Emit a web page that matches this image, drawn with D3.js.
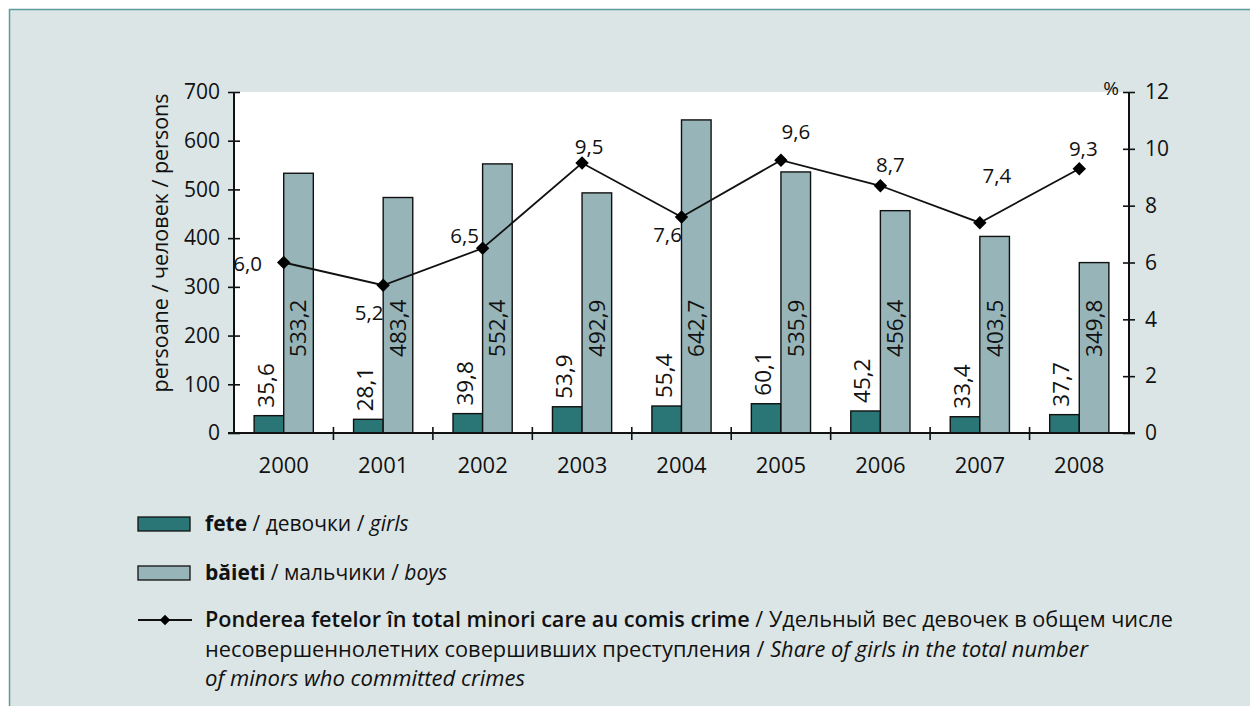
<!DOCTYPE html>
<html>
<head>
<meta charset="utf-8">
<script src="https://cdn.jsdelivr.net/npm/d3@7"></script>
<style>
  html, body { margin: 0; padding: 0; background: #fff; }
  svg { display: block; font-family: "Open Sans", "Noto Sans", sans-serif; }
</style>
</head>
<body>
<svg id="chart" width="1250" height="706"></svg>
<script>
// data
const years = ["2000", "2001", "2002", "2003", "2004", "2005", "2006", "2007", "2008"];
const girls = [35.6, 28.1, 39.8, 53.9, 55.4, 60.1, 45.2, 33.4, 37.7];
const boys = [533.2, 483.4, 552.4, 492.9, 642.7, 535.9, 456.4, 403.5, 349.8];
const share = [6.0, 5.2, 6.5, 9.5, 7.6, 9.6, 8.7, 7.4, 9.3];
const leftTicks = [0, 100, 200, 300, 400, 500, 600, 700];
const rightTicks = [0, 2, 4, 6, 8, 10, 12];

// where the share labels sit, relative to each point
const shareLabelOffset = [[-36, 1], [-14, 28], [-18, -12], [7, -16], [-14, 18], [15, -28], [10, -21], [17, -47], [4, -20]];

const fmt = v => d3.format(".1f")(v).replace(".", ",");

const colGirls = "#2a7575";
const colBoys = "#97b5b9";

const svg = d3.select("#chart");

// panel background
svg.append("rect")
  .attr("x", 9.5).attr("y", 9.5)
  .attr("width", 1260).attr("height", 720)
  .attr("fill", "#dbe5e5")
  .attr("stroke", "#5e9c9c")
  .attr("stroke-width", 1.5);

const plot = { left: 234, right: 1129, top: 92, bottom: 433 };

svg.append("rect")
  .attr("x", plot.left).attr("y", plot.top)
  .attr("width", plot.right - plot.left)
  .attr("height", plot.bottom - plot.top)
  .attr("fill", "#fff");

const x = d3.scaleBand().domain(years).range([plot.left, plot.right]).padding(0);
const xSub = d3.scaleBand().domain(["girls", "boys"]).range([0, x.bandwidth()])
  .paddingInner(0).paddingOuter(0.68);
const y = d3.scaleLinear().domain([0, 700]).range([plot.bottom, plot.top]);
const y2 = d3.scaleLinear().domain([0, 12]).range([plot.bottom, plot.top]);

// bars
const groups = svg.append("g").selectAll("g")
  .data(years)
  .join("g")
  .attr("transform", d => `translate(${x(d)},0)`);

groups.append("rect")
  .attr("x", xSub("girls"))
  .attr("y", (d, i) => y(girls[i]))
  .attr("width", xSub.bandwidth())
  .attr("height", (d, i) => y(0) - y(girls[i]))
  .attr("fill", colGirls)
  .attr("stroke", "#111")
  .attr("stroke-width", 1.4);

groups.append("rect")
  .attr("x", xSub("boys"))
  .attr("y", (d, i) => y(boys[i]))
  .attr("width", xSub.bandwidth())
  .attr("height", (d, i) => y(0) - y(boys[i]))
  .attr("fill", colBoys)
  .attr("stroke", "#111")
  .attr("stroke-width", 1.4);

// bar value labels (rotated)
groups.append("text")
  .attr("transform", (d, i) => `translate(${xSub("girls") + xSub.bandwidth() / 2 - 3},${y(girls[i]) - 8}) rotate(-90)`)
  .attr("dy", "0.35em")
  .attr("font-size", 22.5)
  .attr("fill", "#111")
  .text((d, i) => fmt(girls[i]));

groups.append("text")
  .attr("transform", (d, i) => `translate(${xSub("boys") + xSub.bandwidth() / 2},${y(215)}) rotate(-90)`)
  .attr("dy", "0.35em")
  .attr("text-anchor", "middle")
  .attr("font-size", 22.5)
  .attr("fill", "#111")
  .text((d, i) => fmt(boys[i]));

// axes
const axisLeft = svg.append("g")
  .attr("transform", `translate(${plot.left},0)`)
  .call(d3.axisLeft(y).tickValues(leftTicks).tickSize(6).tickPadding(8));
axisLeft.selectAll(".tick line").attr("x1", 6).attr("x2", -6);

const axisRight = svg.append("g")
  .attr("transform", `translate(${plot.right},0)`)
  .call(d3.axisRight(y2).tickValues(rightTicks).tickSize(6).tickPadding(10));
axisRight.selectAll(".tick line").attr("x1", -6).attr("x2", 6);

// x axis: ticks at category boundaries
const axisBottom = svg.append("g")
  .attr("transform", `translate(0,${plot.bottom})`)
  .call(d3.axisBottom(x).tickSize(0).tickPadding(32));
axisBottom.selectAll(".tick text").attr("dy", "0.35em");
axisBottom.selectAll(".sep")
  .data(years.slice(1))
  .join("line")
  .attr("class", "sep")
  .attr("x1", d => x(d)).attr("x2", d => x(d))
  .attr("y1", -6).attr("y2", 7)
  .attr("stroke", "#111").attr("stroke-width", 1.6);

[axisLeft, axisRight, axisBottom].forEach(a => {
  a.select(".domain").remove();
  a.selectAll(".tick line").attr("stroke", "#111").attr("stroke-width", 1.6);
  a.selectAll(".tick text").attr("font-size", 21).attr("fill", "#111")
    .attr("font-family", "'Open Sans', sans-serif");
});
axisBottom.selectAll(".tick text").attr("font-size", 22);

svg.append("line")
  .attr("x1", plot.left).attr("x2", plot.left)
  .attr("y1", plot.top).attr("y2", plot.bottom + 1)
  .attr("stroke", "#111").attr("stroke-width", 2);
svg.append("line")
  .attr("x1", plot.right).attr("x2", plot.right)
  .attr("y1", plot.top).attr("y2", plot.bottom + 1)
  .attr("stroke", "#111").attr("stroke-width", 2);
svg.append("line")
  .attr("x1", plot.left - 6).attr("x2", plot.right + 6)
  .attr("y1", plot.bottom).attr("y2", plot.bottom)
  .attr("stroke", "#111").attr("stroke-width", 2);

// axis titles
svg.append("text")
  .attr("transform", `translate(160,243) rotate(-90)`)
  .attr("dy", "0.35em")
  .attr("text-anchor", "middle")
  .attr("font-size", 21.5)
  .attr("fill", "#111")
  .text("persoane / человек / persons");

svg.append("text")
  .attr("x", 1111).attr("y", 88)
  .attr("dy", "0.35em")
  .attr("text-anchor", "middle")
  .attr("font-size", 19)
  .attr("fill", "#111")
  .text("%");

// share line
const cx = d => x(d) + x.bandwidth() / 2;
const line = d3.line()
  .x((d, i) => cx(years[i]))
  .y(d => y2(d));

svg.append("path")
  .datum(share)
  .attr("d", line)
  .attr("fill", "none")
  .attr("stroke", "#111")
  .attr("stroke-width", 1.8);

const diamond = d3.symbol().type(d3.symbolSquare).size(90);
svg.append("g").selectAll("path")
  .data(share)
  .join("path")
  .attr("d", diamond)
  .attr("transform", (d, i) => `translate(${cx(years[i])},${y2(d)}) rotate(45)`)
  .attr("fill", "#000");

svg.append("g").selectAll("text")
  .data(share)
  .join("text")
  .attr("x", (d, i) => cx(years[i]) + shareLabelOffset[i][0])
  .attr("y", (d, i) => y2(d) + shareLabelOffset[i][1])
  .attr("dy", "0.35em")
  .attr("text-anchor", "middle")
  .attr("font-size", 20.5)
  .attr("fill", "#111")
  .text(d => fmt(d));

// legend
const legend = svg.append("g");
const swatches = [
  { color: colGirls, bold: "fete", mid: " / девочки / ", it: "girls", y: 524 },
  { color: colBoys, bold: "băieti", mid: " / мальчики / ", it: "boys", y: 573 }
];
swatches.forEach(s => {
  legend.append("rect")
    .attr("x", 138).attr("y", s.y - 7)
    .attr("width", 52).attr("height", 14)
    .attr("fill", s.color)
    .attr("stroke", "#111").attr("stroke-width", 1.3);
  const t = legend.append("text")
    .attr("x", 205).attr("y", s.y)
    .attr("dy", "0.35em")
    .attr("font-size", 21)
    .attr("fill", "#111");
  t.append("tspan").attr("font-weight", "bold").text(s.bold);
  t.append("tspan").text(s.mid);
  t.append("tspan").attr("font-style", "italic").text(s.it);
});

legend.append("line")
  .attr("x1", 138).attr("x2", 192)
  .attr("y1", 620).attr("y2", 620)
  .attr("stroke", "#111").attr("stroke-width", 1.8);
legend.append("path")
  .attr("d", d3.symbol().type(d3.symbolSquare).size(55))
  .attr("transform", "translate(165,620) rotate(45)")
  .attr("fill", "#000");

const legLines = [
  { y: 620, len: 968, parts: [["Ponderea fetelor în total minori care au comis crime", "bold"], [" / Удельный вес девочек в общем числе", "normal"]] },
  { y: 650, len: 883, parts: [["несовершеннолетних совершивших преступления / ", "normal"], ["Share of girls in the total number", "italic"]] },
  { y: 679, len: 320, parts: [["of minors who committed crimes", "italic"]] }
];
legLines.forEach(l => {
  const t = legend.append("text")
    .attr("x", 205).attr("y", l.y)
    .attr("dy", "0.35em")
    .attr("font-size", 21)
    .attr("fill", "#111")
    .attr("textLength", l.len)
    .attr("lengthAdjust", "spacingAndGlyphs");
  l.parts.forEach(p => {
    const ts = t.append("tspan").text(p[0]);
    if (p[1] === "bold") ts.attr("font-weight", 600);
    if (p[1] === "italic") ts.attr("font-style", "italic");
  });
});
</script>
</body>
</html>
